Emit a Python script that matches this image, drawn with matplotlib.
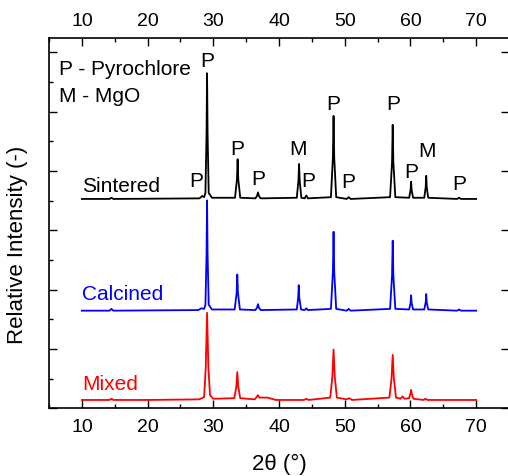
import matplotlib
matplotlib.use("Agg")
import matplotlib.pyplot as plt
from matplotlib.ticker import MultipleLocator

plt.rcParams['font.family'] = ['Liberation Sans', 'DejaVu Sans']

# ---- data (2theta, intensity above each trace's baseline) ----
sintered_pts = [(10.0, 0.00), (14.2, 0.00), (14.5, 0.02), (14.8, 0.00), (27.9, 0.01), (28.3, 0.05),
                (28.6, 0.03), (28.8, 0.10), (28.97, 1.10), (29.05, 2.12), (29.13, 1.10), (29.3, 0.10),
                (29.8, 0.02), (33.3, 0.02), (33.6, 0.33), (33.7, 0.67), (33.8, 0.33), (34.1, 0.02),
                (36.4, 0.01), (36.65, 0.05), (36.8, 0.11), (36.95, 0.05), (37.2, 0.01), (42.7, 0.02),
                (42.95, 0.30), (43.05, 0.59), (43.15, 0.30), (43.4, 0.02), (43.9, 0.01), (44.15, 0.06),
                (44.4, 0.01), (47.9, 0.03), (48.2, 0.70), (48.3, 1.40), (48.4, 0.70), (48.7, 0.03),
                (50.3, 0.00), (50.6, 0.03), (50.9, 0.00), (56.9, 0.03), (57.2, 0.62), (57.3, 1.25),
                (57.4, 0.62), (57.7, 0.03), (59.8, 0.02), (60.02, 0.15), (60.1, 0.29), (60.18, 0.15),
                (60.4, 0.02), (62.1, 0.02), (62.32, 0.20), (62.4, 0.39), (62.48, 0.20), (62.7, 0.02),
                (67.1, 0.00), (67.4, 0.02), (67.7, 0.00), (70.0, 0.00)]

calcined_pts = [(10.0, 0.00), (14.2, 0.00), (14.5, 0.03), (14.8, 0.00), (27.7, 0.01), (28.2, 0.04),
                (28.6, 0.03), (28.8, 0.10), (28.97, 0.95), (29.05, 1.86), (29.13, 0.95), (29.3, 0.10),
                (29.8, 0.02), (33.25, 0.02), (33.55, 0.30), (33.65, 0.61), (33.75, 0.30), (34.05, 0.02),
                (36.4, 0.01), (36.65, 0.05), (36.8, 0.11), (36.95, 0.05), (37.2, 0.01), (42.7, 0.02),
                (42.92, 0.22), (43.0, 0.43), (43.08, 0.22), (43.35, 0.02), (43.9, 0.01), (44.15, 0.04),
                (44.4, 0.01), (47.9, 0.03), (48.2, 0.66), (48.3, 1.33), (48.4, 0.66), (48.7, 0.03),
                (50.3, 0.00), (50.6, 0.03), (50.9, 0.00), (56.9, 0.03), (57.2, 0.59), (57.3, 1.18),
                (57.4, 0.59), (57.7, 0.03), (59.8, 0.02), (60.02, 0.13), (60.1, 0.26), (60.18, 0.13),
                (60.4, 0.02), (62.1, 0.02), (62.32, 0.14), (62.4, 0.28), (62.48, 0.14), (62.7, 0.02),
                (67.1, 0.00), (67.4, 0.02), (67.7, 0.00), (70.0, 0.00)]

mixed_pts = [(10.0, 0.00), (14.2, 0.00), (14.5, 0.02), (14.8, 0.00), (20.0, 0.00), (27.8, 0.01),
             (28.3, 0.03), (28.6, 0.05), (28.85, 0.55), (29.05, 1.47), (29.25, 0.55), (29.5, 0.08),
             (30.0, 0.02), (33.2, 0.03), (33.5, 0.22), (33.65, 0.47), (33.8, 0.22), (34.1, 0.03),
             (36.3, 0.01), (36.6, 0.05), (36.8, 0.08), (37.0, 0.04), (37.5, 0.04), (38.2, 0.04),
             (38.9, 0.02), (39.5, 0.00), (43.8, 0.00), (44.15, 0.02), (44.5, 0.00), (47.8, 0.04),
             (48.12, 0.40), (48.3, 0.85), (48.48, 0.40), (48.8, 0.04), (50.3, 0.01), (50.7, 0.03),
             (51.1, 0.00), (56.8, 0.04), (57.12, 0.36), (57.3, 0.76), (57.48, 0.36), (57.8, 0.04),
             (58.5, 0.02), (58.8, 0.06), (59.1, 0.02), (59.8, 0.03), (60.0, 0.11), (60.1, 0.17),
             (60.2, 0.11), (60.45, 0.02), (62.0, 0.00), (62.3, 0.02), (62.6, 0.00), (70.0, 0.00)]

sample_names = ["Sintered", "Calcined", "Mixed"]
sample_colors = ["black", "#0000ff", "#ff0000"]
sample_offsets = [3.53, 1.646, 0.14]
sample_label_y = [3.67, 1.84, 0.33]

# peak annotations: (label, 2theta, y)
peak_labels = ["P", "P", "P", "P", "M", "P", "P", "P", "P", "P", "M", "P"]
peak_label_x = [27.33, 29.08, 33.7, 36.9, 42.84, 44.5, 48.23, 50.6, 57.43, 60.17, 62.45, 67.46]
peak_label_y = [3.75, 5.78, 4.29, 3.78, 4.29, 3.75, 5.05, 3.73, 5.05, 3.90, 4.25, 3.70]

legend_lines = ["P - Pyrochlore", "M - MgO"]
legend_y = [5.64, 5.18]

fig = plt.figure(figsize=(5.08, 4.77), dpi=100)
ax = fig.add_axes([0.0965, 0.142, 0.9055, 0.7757])

for pts, name, col, off, ly in zip([sintered_pts, calcined_pts, mixed_pts], sample_names,
                                    sample_colors, sample_offsets, sample_label_y):
    xs = [p[0] for p in pts]
    ys = [p[1] + off for p in pts]
    ax.plot(xs, ys, color=col, lw=1.3, solid_joinstyle='round')
    ax.text(10.0, ly, name, color=col, fontsize=15, ha='left', va='baseline')

for lab, x, y in zip(peak_labels, peak_label_x, peak_label_y):
    ax.text(x, y, lab, fontsize=15, ha='center', va='baseline')

for t, y in zip(legend_lines, legend_y):
    ax.text(6.52, y, t, fontsize=15, ha='left', va='baseline')

ax.set_xlim(5, 75)
ax.set_ylim(0, 6.24)
ax.xaxis.set_major_locator(MultipleLocator(10))
ax.xaxis.set_minor_locator(MultipleLocator(5))
ax.yaxis.set_major_locator(MultipleLocator(1))
ax.yaxis.set_minor_locator(MultipleLocator(0.5))

ax.tick_params(axis='x', which='both', direction='in', top=True, bottom=True,
               labeltop=True, labelbottom=True, labelsize=14, pad=7, width=1.0)
ax.tick_params(axis='x', which='major', length=5.5)
ax.tick_params(axis='x', which='minor', length=3)
ax.tick_params(axis='y', which='both', direction='in', left=True, right=True,
               labelleft=False, labelright=False, width=1.0)
ax.tick_params(axis='y', which='major', length=5.5)
ax.tick_params(axis='y', which='minor', length=3, right=False)

for s in ax.spines.values():
    s.set_linewidth(1.2)

ax.set_xlabel("2θ (°)", fontsize=16)
ax.set_ylabel("Relative Intensity (-)", fontsize=16)
ax.xaxis.set_label_coords(0.5, -0.12)
ax.yaxis.set_label_coords(-0.045, 0.445)

fig.savefig("out.png", dpi=100)
